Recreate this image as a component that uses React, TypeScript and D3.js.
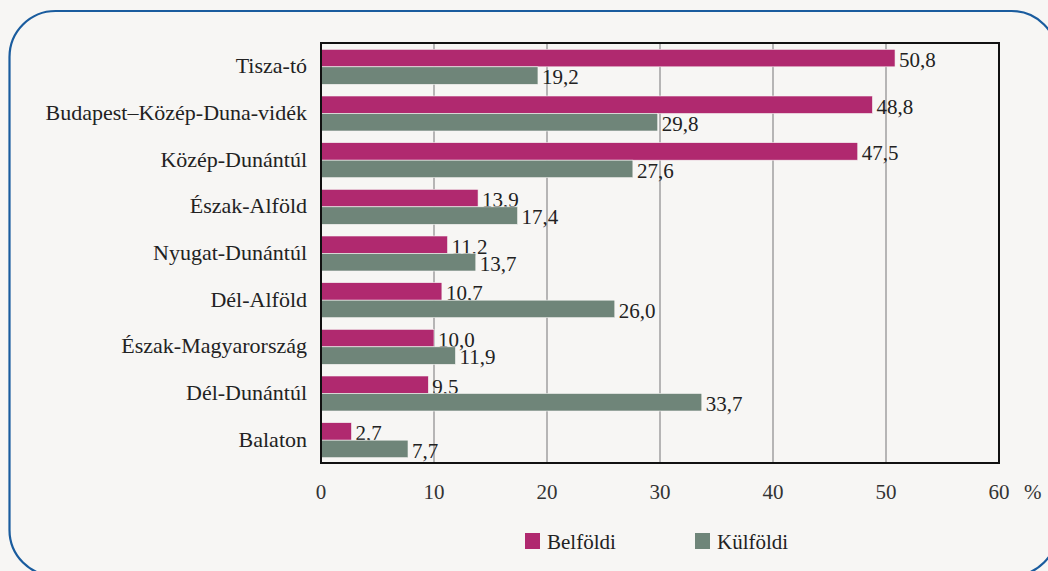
import React from "react";
import * as d3 from "d3";

const categories = [
  "Tisza-tó",
  "Budapest–Közép-Duna-vidék",
  "Közép-Dunántúl",
  "Észak-Alföld",
  "Nyugat-Dunántúl",
  "Dél-Alföld",
  "Észak-Magyarország",
  "Dél-Dunántúl",
  "Balaton",
];
const belfoldi = [50.8, 48.8, 47.5, 13.9, 11.2, 10.7, 10.0, 9.5, 2.7];
const kulfoldi = [19.2, 29.8, 27.6, 17.4, 13.7, 26.0, 11.9, 33.7, 7.7];
const xTicks = [0, 10, 20, 30, 40, 50, 60];
const seriesNames = ["Belföldi", "Külföldi"];
const seriesColors = ["#b0296f", "#6f8579"];

const W = 1048;
const H = 571;
const FONT = '"Liberation Serif", "Times New Roman", "DejaVu Serif", "Noto Serif", serif';

export default function App() {
  const left = 321, right = 999, top = 43, bottom = 463;
  const x = d3.scaleLinear().domain([0, 60]).range([left, right]);
  const y = d3.scaleBand<string>().domain(categories).range([top, bottom]);
  const barH = 17.5;
  const fmt = (v: number) => v.toFixed(1).replace(".", ",");
  const series = [belfoldi, kulfoldi];
  const ts = (size: number, fill = "#222") => ({ fontFamily: FONT, fontSize: `${size}px`, fill });

  return (
    <svg width={W} height={H} style={{ position: "absolute", left: 0, top: 0, background: "#f7f6f4" }}>
      <rect x={0} y={0} width={W} height={H} fill="#f7f6f4" />
      <rect x={9.5} y={11} width={1048} height={565} rx={46} ry={46} fill="none" stroke="#1a5c9e" strokeWidth={2.2} />
      {xTicks.slice(1, -1).map((t) => (
        <line key={t} x1={x(t)} x2={x(t)} y1={top} y2={bottom} stroke="#8a8a8a" strokeWidth={1.2} />
      ))}
      {categories.map((c, i) => {
        const cy = (y(c) as number) + y.bandwidth() / 2;
        return (
          <g key={c}>
            {series.map((s, k) => {
              const y0 = cy - barH + k * barH + 0.5;
              return (
                <g key={k}>
                  <rect x={x(0)} y={y0} width={x(s[i]) - x(0)} height={barH} fill={seriesColors[k]} stroke="#f7f6f4" strokeWidth={0.6} />
                  <text x={x(s[i]) + 4} y={y0 + barH} style={ts(21)}>
                    {fmt(s[i])}
                  </text>
                </g>
              );
            })}
            <text x={307} y={cy + 7} textAnchor="end" style={ts(22)}>
              {c}
            </text>
          </g>
        );
      })}
      <rect x={left} y={top} width={right - left} height={bottom - top} fill="none" stroke="#111" strokeWidth={2} />
      {xTicks.map((t) => (
        <text key={t} x={x(t)} y={499} textAnchor="middle" style={ts(21, "#333")}>
          {t}
        </text>
      ))}
      <text x={1024} y={499} style={ts(21, "#333")}>%</text>
      {seriesNames.map((n, k) => {
        const lx = 525 + k * 170;
        return (
          <g key={n}>
            <rect x={lx} y={533} width={15} height={16} fill={seriesColors[k]} />
            <text x={lx + 22} y={549} style={ts(21)}>
              {n}
            </text>
          </g>
        );
      })}
    </svg>
  );
}
